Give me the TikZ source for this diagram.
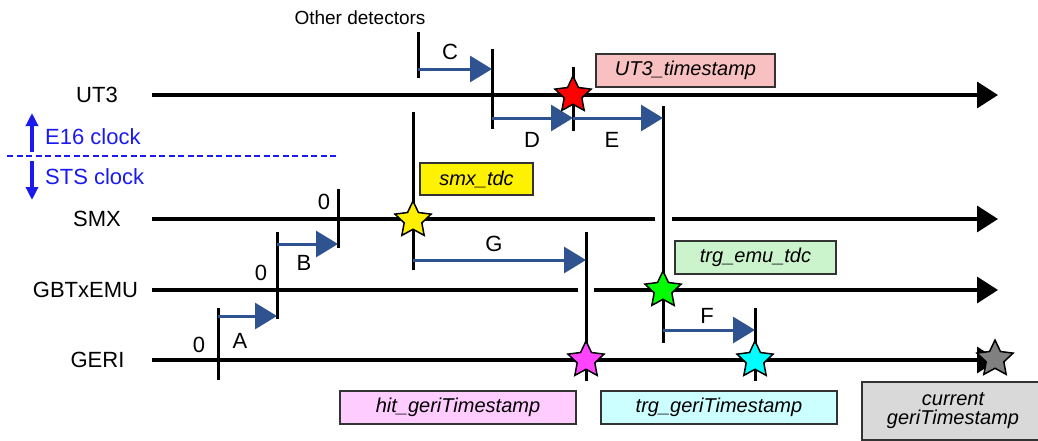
\documentclass[tikz,border=0pt]{standalone}
\usepackage{fontspec}
\setmainfont{Liberation Sans}
\usetikzlibrary{arrows.meta,shapes.geometric}
\definecolor{navy}{HTML}{2F5290}
\definecolor{clockblue}{HTML}{1A1AF0}
\definecolor{ut3fill}{HTML}{F8C0C0}
\definecolor{smxfill}{HTML}{FFF200}
\definecolor{emufill}{HTML}{CCF4CC}
\definecolor{hitfill}{HTML}{FFCCFF}
\definecolor{trgfill}{HTML}{CCFFFF}
\definecolor{curfill}{HTML}{D9D9D9}
\definecolor{redstar}{HTML}{FF0000}
\definecolor{yelstar}{HTML}{FFF000}
\definecolor{grnstar}{HTML}{00FF00}
\definecolor{magstar}{HTML}{FF44FF}
\definecolor{cynstar}{HTML}{00FFFF}
\definecolor{grystar}{HTML}{808080}
\begin{document}
\begin{tikzpicture}[x=1pt,y=-1pt,
  tline/.style={line width=3.5pt,-{Triangle[length=21pt,width=26pt]}},
  seg/.style={line width=3.5pt},
  tick/.style={line width=3pt},
  delay/.style={line width=3pt,draw=navy,-{Triangle[length=22pt,width=26pt,fill=navy]}},
  lab/.style={font=\fontsize{22}{26}\selectfont, inner sep=0pt},
  smalllab/.style={font=\fontsize{19}{22}\selectfont, inner sep=0pt},
  clk/.style={font=\fontsize{22}{26}\selectfont, inner sep=0pt, text=clockblue, anchor=west},
  clkarrow/.style={line width=4pt, draw=clockblue, -{Triangle[length=13pt,width=12pt]}},
  starnode/.style={star, star points=5, star point ratio=2.05, minimum size=38pt, inner sep=0pt, draw=black, line width=1.5pt},
  tsbox/.style={draw=black!80, line width=1.5pt, font=\fontsize{20}{24}\selectfont\itshape, inner sep=0pt, minimum height=33pt, align=center},
]
\useasboundingbox (0,0) rectangle (1038,440);

% timeline coordinates
\coordinate (ut3s) at (152,95);  \coordinate (ut3e) at (998,95);
\coordinate (smxs) at (152,219); \coordinate (smxg1) at (655,219); \coordinate (smxg2) at (672,219); \coordinate (smxe) at (998,219);
\coordinate (gbts) at (152,290); \coordinate (gbtg1) at (578,290); \coordinate (gbtg2) at (594,290); \coordinate (gbte) at (998,290);
\coordinate (geris) at (152,360); \coordinate (gerie) at (998,360);

% timeline labels
\node[lab] (lut3) at (97,95) {UT3};
\node[lab] (lsmx) at (97,219) {SMX};
\node[lab] (lgbt) at (85.5,290) {GBTxEMU};
\node[lab] (lgeri) at (97.5,360) {GERI};

% timelines
\draw[tline] (ut3s) -- (ut3e);
\draw[seg] (smxs) -- (smxg1);
\draw[tline] (smxg2) -- (smxe);
\draw[seg] (gbts) -- (gbtg1);
\draw[tline] (gbtg2) -- (gbte);
\draw[tline] (geris) -- (gerie);

% clock separation
\coordinate (dashs) at (7,156); \coordinate (dashe) at (338,156);
\draw[clockblue, line width=2pt, dash pattern=on 6pt off 3.5pt] (dashs) -- (dashe);
\coordinate (upS) at (32,152); \coordinate (upE) at (32,113);
\coordinate (dnS) at (32,161); \coordinate (dnE) at (32,200);
\draw[clkarrow] (upS) -- (upE);
\draw[clkarrow] (dnS) -- (dnE);
\node[clk] (e16) at (45,137) {E16 clock};
\node[clk] (sts) at (45,177) {STS clock};

% vertical ticks
\coordinate (g0t) at (218,308); \coordinate (g0b) at (218,380);
\coordinate (b0t) at (277,232); \coordinate (b0b) at (277,319);
\coordinate (s0t) at (338,189); \coordinate (s0b) at (338,248);
\coordinate (smt) at (413,112); \coordinate (smb) at (413,270);
\coordinate (odt) at (418,32);  \coordinate (odb) at (418,78);
\coordinate (u1t) at (492,49);  \coordinate (u1b) at (492,129);
\coordinate (u2t) at (573,67);  \coordinate (u2b) at (573,131);
\coordinate (emt) at (663,106); \coordinate (emb) at (663,343);
\coordinate (hit) at (586,232); \coordinate (hib) at (586,381);
\coordinate (trt) at (755,308); \coordinate (trb) at (755,381);
\foreach \a/\b in {g0t/g0b,b0t/b0b,s0t/s0b,smt/smb,odt/odb,u1t/u1b,u2t/u2b,emt/emb,hit/hib,trt/trb}
  \draw[tick] (\a) -- (\b);

% delay arrows
\coordinate (aS) at (218,316); \coordinate (aE) at (277,316);
\coordinate (bS) at (277,244); \coordinate (bE) at (338,244);
\coordinate (cS) at (418,69);  \coordinate (cE) at (492,69);
\coordinate (dS) at (492,118); \coordinate (dE) at (573,118);
\coordinate (eS) at (573,118); \coordinate (eE) at (663,118);
\coordinate (gS) at (413,260); \coordinate (gE) at (586,260);
\coordinate (fS) at (663,330); \coordinate (fE) at (755,330);
\foreach \a/\b in {aS/aE,bS/bE,cS/cE,dS/dE,eS/eE,gS/gE,fS/fE}
  \draw[delay] (\a) -- (\b);

% letters and zeros
\node[lab] (zg) at (199,345) {0};
\node[lab] (zb) at (261,273) {0};
\node[lab] (zs) at (324,202) {0};
\node[lab] (la) at (240,341) {A};
\node[lab] (lb) at (304,263) {B};
\node[lab] (lc) at (450,52) {C};
\node[lab] (ld) at (532,140) {D};
\node[lab] (le) at (612,140) {E};
\node[lab] (lf) at (707,316) {F};
\node[lab] (lg) at (494,244) {G};
\node[smalllab] (other) at (360,18) {Other detectors};

% stars
\node[starnode, fill=redstar] (sred) at (573,95) {};
\node[starnode, fill=yelstar] (syel) at (413,220) {};
\node[starnode, fill=grnstar] (sgrn) at (663,290) {};
\node[starnode, fill=magstar] (smag) at (586,360) {};
\node[starnode, fill=cynstar] (scyn) at (755,360) {};
\node[starnode, fill=grystar] (sgry) at (995,359) {};

% timestamp boxes
\node[tsbox, fill=ut3fill, minimum width=179pt] (but3) at (685.5,70.5) {UT3\_timestamp};
\node[tsbox, fill=smxfill, minimum width=113pt, minimum height=32pt] (bsmx) at (476.5,179) {smx\_tdc};
\node[tsbox, fill=emufill, minimum width=161pt] (bemu) at (755.5,257.5) {trg\_emu\_tdc};
\node[tsbox, fill=hitfill, minimum width=236pt] (bhit) at (458,407.5) {hit\_geriTimestamp};
\node[tsbox, fill=trgfill, minimum width=236pt] (btrg) at (719,407.5) {trg\_geriTimestamp};
\node[tsbox, fill=curfill, minimum width=182pt, minimum height=58pt, font=\fontsize{20}{19}\selectfont\itshape] (bcur) at (953,411) {current\\geriTimestamp};
\end{tikzpicture}
\end{document}
